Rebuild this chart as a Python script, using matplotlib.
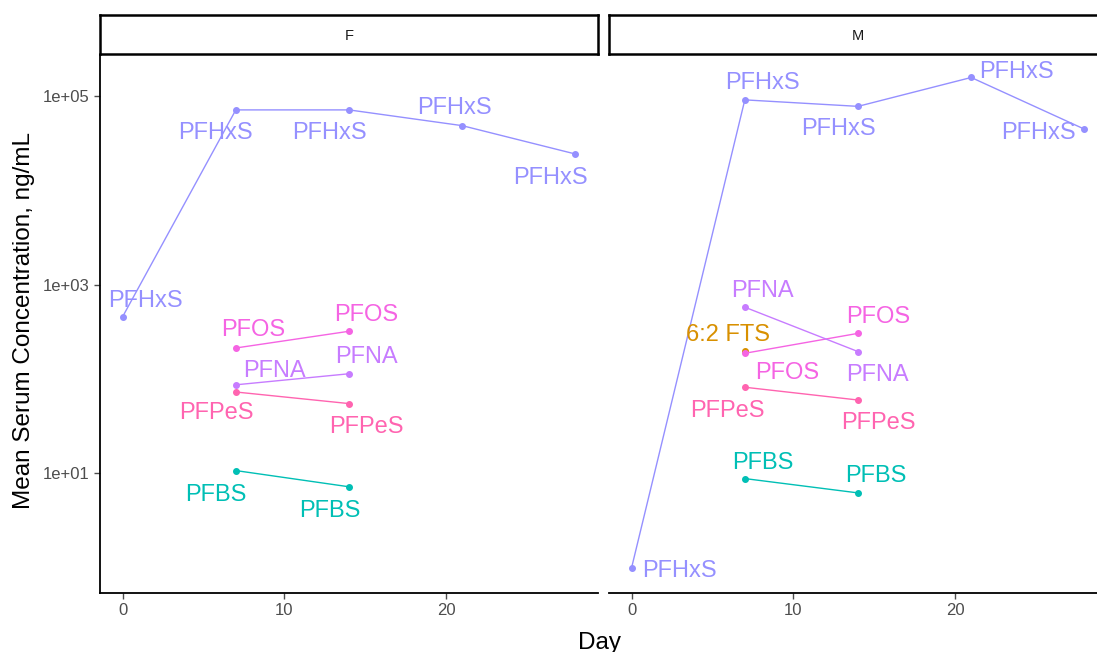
import matplotlib
matplotlib.use("Agg")
import matplotlib.pyplot as plt
from matplotlib.ticker import FixedLocator, NullLocator

plt.rcParams['font.family'] = ['Liberation Sans', 'DejaVu Sans']

# --- data ---
sexes = ["F", "M"]

# Female
f_pfhxs_day = [0, 7, 14, 21, 28]
f_pfhxs = [460, 72000, 72000, 49000, 24500]
f_pfos_day = [7, 14]
f_pfos = [214, 322]
f_pfna_day = [7, 14]
f_pfna = [87, 114]
f_pfpes_day = [7, 14]
f_pfpes = [73, 55]
f_pfbs_day = [7, 14]
f_pfbs = [10.7, 7.2]

# Male
m_pfhxs_day = [0, 7, 14, 21, 28]
m_pfhxs = [1.0, 92000, 78500, 159000, 45000]
m_pfna_day = [7, 14]
m_pfna = [580, 196]
m_fts_day = [7]
m_fts = [200]
m_pfos_day = [7, 14]
m_pfos = [188, 306]
m_pfpes_day = [7, 14]
m_pfpes = [82, 60]
m_pfbs_day = [7, 14]
m_pfbs = [8.8, 6.2]

colors = {
    "PFHxS": "#9590FF",
    "PFOS": "#F564E3",
    "PFNA": "#C77CFF",
    "PFPeS": "#FF64B0",
    "PFBS": "#00BFB5",
    "6:2 FTS": "#D89000",
}

# label offsets in pixels (dx, dy; dy positive = down), one per point
series = {
    "F": [
        ("PFBS", f_pfbs_day, f_pfbs, [(-20, 24), (-19, 24)]),
        ("PFPeS", f_pfpes_day, f_pfpes, [(-19, 21), (17, 23)]),
        ("PFNA", f_pfna_day, f_pfna, [(39, -14), (17, -17)]),
        ("PFOS", f_pfos_day, f_pfos, [(17, -18), (17, -16)]),
        ("PFHxS", f_pfhxs_day, f_pfhxs,
         [(23, -16), (-20, 23), (-20, 23), (-8, -18), (-25, 24)]),
    ],
    "M": [
        ("PFBS", m_pfbs_day, m_pfbs, [(18, -16), (18, -17)]),
        ("PFPeS", m_pfpes_day, m_pfpes, [(-17, 24), (20, 23)]),
        ("6:2 FTS", m_fts_day, m_fts, [(-17, -16)]),
        ("PFOS", m_pfos_day, m_pfos, [(42, 20), (20, -16)]),
        ("PFNA", m_pfna_day, m_pfna, [(18, -16), (19, 23)]),
        ("PFHxS", m_pfhxs_day, m_pfhxs,
         [(48, 3), (18, -17), (-20, 23), (45, -5), (-46, 4)]),
    ],
}

W, H = 1097, 652
fig = plt.figure(figsize=(W / 100, H / 100), dpi=100)

panel_left = {"F": 100, "M": 609}
panel_w = 498
panel_top, panel_bottom = 55, 593
strip_top, strip_bottom = 15, 54

for sex in sexes:
    x0 = panel_left[sex]
    ax = fig.add_axes([x0 / W, (H - panel_bottom) / H, panel_w / W,
                       (panel_bottom - panel_top) / H])
    ax.set_yscale('log')
    ax.set_xlim(-1.4, 29.4)
    ax.set_ylim(10 ** -0.27, 10 ** 5.44)

    for name, days, vals, offs in series[sex]:
        c = colors[name]
        ax.plot(days, vals, color=c, linewidth=1.0, marker='o',
                markersize=4, zorder=2)
        for d, v, (dx, dy) in zip(days, vals, offs):
            ax.annotate(name, (d, v), xytext=(dx * 0.72, -dy * 0.72),
                        textcoords='offset points', ha='center', va='center',
                        color=c, fontsize=17, zorder=3)

    ax.spines['top'].set_visible(False)
    ax.spines['right'].set_visible(False)
    ax.spines['bottom'].set_linewidth(1.3)
    ax.spines['left'].set_linewidth(1.3)
    ax.xaxis.set_major_locator(FixedLocator([0, 10, 20]))
    ax.tick_params(axis='x', colors='#4D4D4D', labelsize=12, length=4,
                   width=1, labelcolor='#4D4D4D')
    if sex == "F":
        ax.yaxis.set_major_locator(FixedLocator([10, 1e3, 1e5]))
        ax.yaxis.set_minor_locator(NullLocator())
        ax.set_yticklabels(["1e+01", "1e+03", "1e+05"])
        ax.tick_params(axis='y', colors='#4D4D4D', labelsize=12, length=4,
                       width=1, labelcolor='#4D4D4D')
    else:
        ax.spines['left'].set_visible(False)
        ax.yaxis.set_major_locator(NullLocator())
        ax.yaxis.set_minor_locator(NullLocator())

    # facet strip
    sax = fig.add_axes([x0 / W, (H - strip_bottom) / H, panel_w / W,
                        (strip_bottom - strip_top) / H])
    sax.set_xticks([])
    sax.set_yticks([])
    for s in sax.spines.values():
        s.set_linewidth(1.8)
        s.set_color('black')
    sax.text(0.5, 0.45, sex, ha='center', va='center', fontsize=10.5,
             color='#1A1A1A', transform=sax.transAxes)

fig.text(24 / W, 1 - 321 / H, "Mean Serum Concentration, ng/mL", rotation=90,
         ha='center', va='center', fontsize=17.5)
fig.text(600 / W, 1 - 643 / H, "Day", ha='center', va='center', fontsize=17.5)

fig.savefig("out.png", dpi=100)
